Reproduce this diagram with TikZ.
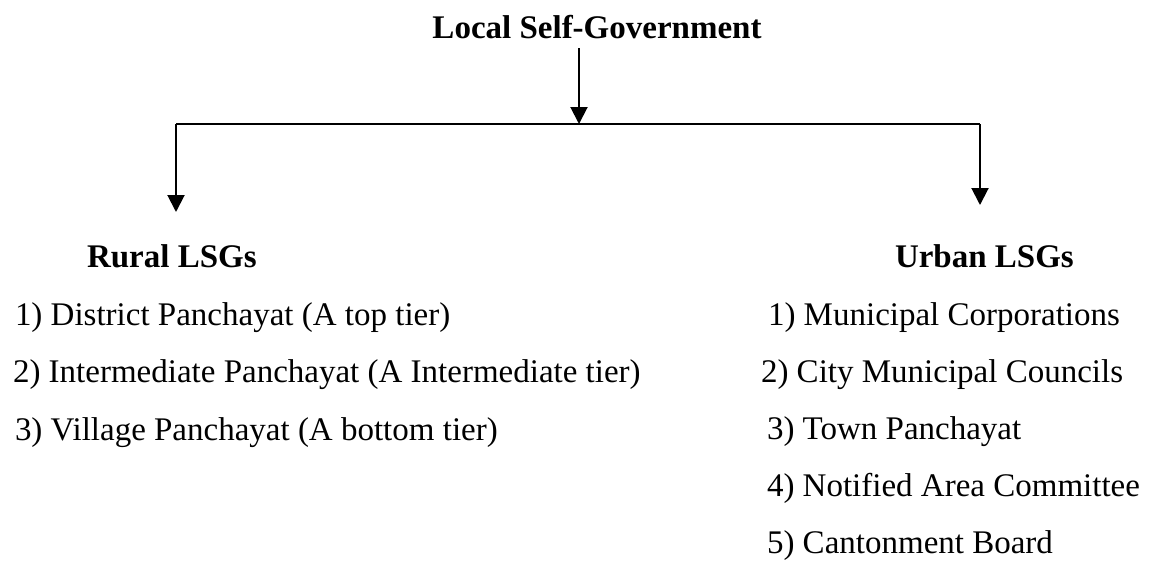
\documentclass[tikz,border=0pt]{standalone}
\usepackage{fontspec}
\setmainfont{Liberation Serif}
\usetikzlibrary{arrows.meta}
\tikzset{
  txt/.style={inner sep=0pt, outer sep=0pt, font=\fontsize{33}{40}\selectfont, text=black},
  hdr/.style={txt, font=\fontsize{33}{40}\selectfont\bfseries},
  conn/.style={draw=black, line width=2pt},
  arr/.style={conn, -{Triangle[length=17pt,width=17pt]}},
  hline/.style={draw=black, line width=1.6pt}
}
\begin{document}
\begin{tikzpicture}[x=1pt,y=-1pt]
\useasboundingbox (0,0) rectangle (1149,560);
% title
\node[hdr, anchor=base] (title) at (597,38) {Local Self-Government};
% connector points
\coordinate (top) at (579,48);
\coordinate (junc) at (579,124);
\coordinate (lcorner) at (176,124);
\coordinate (rcorner) at (980,124);
\coordinate (ltip) at (176,212);
\coordinate (rtip) at (980,205);
\draw[arr] (top) -- (junc);
\draw[hline] (lcorner) -- (rcorner);
\draw[arr] (lcorner) -- (ltip);
\draw[arr] (rcorner) -- (rtip);
% headers
\node[hdr, anchor=base west] (rural) at (87,267) {Rural LSGs};
\node[hdr, anchor=base west] (urban) at (895,267) {Urban LSGs};
% rural list
\node[txt, anchor=base west] (r1) at (15,325) {1) District Panchayat (A top tier)};
\node[txt, anchor=base west] (r2) at (13,382.5) {2) Intermediate Panchayat (A Intermediate tier)};
\node[txt, anchor=base west] (r3) at (15,440) {3) Village Panchayat (A bottom tier)};
% urban list
\node[txt, anchor=base west] (u1) at (768,325) {1) Municipal Corporations};
\node[txt, anchor=base west] (u2) at (761,382.5) {2) City Municipal Councils};
\node[txt, anchor=base west] (u3) at (767,439) {3) Town Panchayat};
\node[txt, anchor=base west] (u4) at (767,496.5) {4) Notified Area Committee};
\node[txt, anchor=base west] (u5) at (767,553.5) {5) Cantonment Board};
\end{tikzpicture}
\end{document}
